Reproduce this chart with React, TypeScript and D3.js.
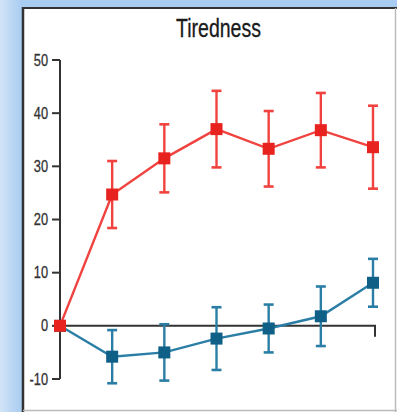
import React, { useEffect, useRef } from 'react';
import { select, scaleLinear, line } from 'd3';

const timepoints = [0, 1, 2, 3, 4, 5, 6];
const redMean = [0, 24.7, 31.5, 37, 33.3, 36.8, 33.6];
const redErr = [0, 6.3, 6.4, 7.2, 7.1, 7, 7.8];
const blueMean = [0, -5.8, -5, -2.4, -0.5, 1.8, 8.1];
const blueErr = [0, 5, 5.3, 5.9, 4.5, 5.6, 4.5];
const yTicks = [-10, 0, 10, 20, 30, 40, 50];
const title = 'Tiredness';

const App = () => {
  const svgRef = useRef(null);

  useEffect(() => {
    const svg = select(svgRef.current);
    svg.selectAll('*').remove();

    const width = 397;
    const height = 412;

    const defs = svg.append('defs');
    const lg = defs.append('linearGradient').attr('id', 'leftFrame').attr('x1', 0).attr('x2', 1).attr('y1', 0).attr('y2', 0);
    lg.append('stop').attr('offset', '0%').attr('stop-color', '#d2e4f7');
    lg.append('stop').attr('offset', '100%').attr('stop-color', '#a6cbf1');

    // blue frame
    svg.append('rect').attr('width', width).attr('height', height).attr('fill', '#a9cdf2');
    svg.append('rect').attr('x', 0).attr('y', 0).attr('width', 23).attr('height', height).attr('fill', 'url(#leftFrame)');

    // white panel + borders
    svg.append('rect').attr('x', 23).attr('y', 8).attr('width', width - 23).attr('height', height - 8).attr('fill', '#fff');
    svg.append('line').attr('x1', 23).attr('x2', 23).attr('y1', 7).attr('y2', height).attr('stroke', '#333').attr('stroke-width', 2.5);
    svg.append('line').attr('x1', 22).attr('x2', width).attr('y1', 8).attr('y2', 8).attr('stroke', '#333').attr('stroke-width', 2);
    svg.append('line').attr('x1', 395.5).attr('x2', 395.5).attr('y1', 8).attr('y2', height).attr('stroke', '#bbb').attr('stroke-width', 1.5);
    svg.append('line').attr('x1', 23).attr('x2', width).attr('y1', 410.5).attr('y2', 410.5).attr('stroke', '#bbb').attr('stroke-width', 1.5);

    const xScale = scaleLinear().domain([0, 6]).range([60, 373]);
    const yScale = scaleLinear().domain([-10, 50]).range([379, 60]);

    // title
    svg.append('text')
      .attr('transform', `translate(${xScale(3) + 2},37) scale(0.78,1)`)
      .attr('text-anchor', 'middle')
      .attr('font-family', 'Liberation Sans, Arial, sans-serif')
      .attr('font-size', 25)
      .attr('fill', '#1a1a1a')
      .attr('stroke', '#1a1a1a')
      .attr('stroke-width', 0.3)
      .text(title);

    // y axis
    const g = svg.append('g');
    g.append('line').attr('x1', 60).attr('x2', 60).attr('y1', yScale(50)).attr('y2', yScale(-10)).attr('stroke', '#333').attr('stroke-width', 2);
    yTicks.forEach((t) => {
      g.append('line').attr('x1', 52).attr('x2', 60).attr('y1', yScale(t)).attr('y2', yScale(t)).attr('stroke', '#333').attr('stroke-width', 2);
      g.append('text')
        .attr('transform', `translate(48,${yScale(t) + 5.5}) scale(0.8,1)`)
        .attr('text-anchor', 'end')
        .attr('font-family', 'Liberation Sans, Arial, sans-serif')
        .attr('font-size', 16)
        .attr('fill', '#333')
        .attr('stroke', '#333')
        .attr('stroke-width', 0.3)
        .text(t);
    });

    // zero line with end tick
    g.append('path')
      .attr('d', `M60,${yScale(0)}H${xScale(6) + 2}V${yScale(0) + 11}`)
      .attr('fill', 'none')
      .attr('stroke', '#333')
      .attr('stroke-width', 2);

    const drawSeries = (mean, err, lineColor, markColor) => {
      const pts = timepoints.map((t, i) => ({ x: t, y: mean[i], e: err[i] }));
      const s = svg.append('g');
      s.append('path')
        .datum(pts)
        .attr('fill', 'none')
        .attr('stroke', lineColor)
        .attr('stroke-width', 2.4)
        .attr('d', line().x((d) => xScale(d.x)).y((d) => yScale(d.y)));
      pts.filter((d) => d.e > 0).forEach((d) => {
        const cx = xScale(d.x);
        s.append('line').attr('x1', cx).attr('x2', cx).attr('y1', yScale(d.y + d.e)).attr('y2', yScale(d.y - d.e)).attr('stroke', lineColor).attr('stroke-width', 2.4);
        [d.y + d.e, d.y - d.e].forEach((v) => {
          s.append('line').attr('x1', cx - 5).attr('x2', cx + 5).attr('y1', yScale(v)).attr('y2', yScale(v)).attr('stroke', lineColor).attr('stroke-width', 2.6);
        });
      });
      pts.forEach((d) => {
        s.append('rect')
          .attr('x', xScale(d.x) - 6)
          .attr('y', yScale(d.y) - 6)
          .attr('width', 12)
          .attr('height', 12)
          .attr('fill', markColor);
      });
    };

    drawSeries(blueMean, blueErr, '#2a7ea6', '#0f5f86');
    drawSeries(redMean, redErr, '#f0423e', '#e8231f');
  }, []);

  return (
    <svg ref={svgRef} width="397" height="412" style={{ position: 'absolute', left: 0, top: 0 }}></svg>
  );
};

export default App;
